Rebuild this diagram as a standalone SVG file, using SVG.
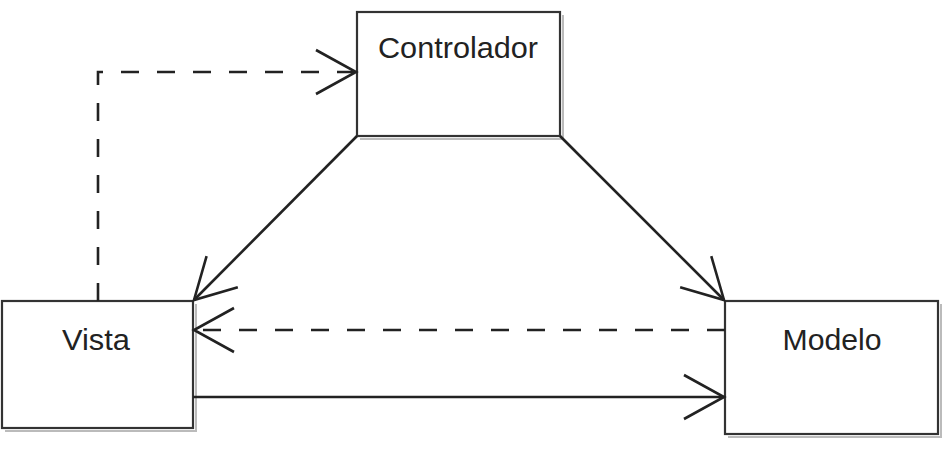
<svg xmlns="http://www.w3.org/2000/svg" width="951" height="472" viewBox="0 0 951 472">
<style>
.box{fill:#fff;stroke:#333;stroke-width:2.2}
.shadow{fill:none;stroke:#bbb;stroke-width:2}
.lbl{font-family:"Liberation Sans",Arial,sans-serif;font-size:29.5px;fill:#222;text-anchor:middle}
.edge{fill:none;stroke:#222;stroke-width:2.6}
.dash{stroke-dasharray:18 18}
</style>
<defs>
<marker id="open" markerUnits="userSpaceOnUse" markerWidth="60" markerHeight="60" viewBox="-45 -30 50 60" refX="0" refY="0" orient="auto">
<path d="M-40,-22 L0,0 L-40,22" fill="none" stroke="#222" stroke-width="2.6" stroke-dasharray="none"/>
</marker>
</defs>
<g id="controlador">
<path class="shadow" d="M563,15 V139 H360"/>
<rect class="box" x="357" y="12" width="203" height="124"/>
<text class="lbl" x="458" y="58" textLength="160" lengthAdjust="spacingAndGlyphs">Controlador</text>
</g>
<g id="vista">
<path class="shadow" d="M196,304 V431 H5"/>
<rect class="box" x="2" y="301" width="191" height="127"/>
<text class="lbl" x="96" y="350" textLength="68" lengthAdjust="spacingAndGlyphs">Vista</text>
</g>
<g id="modelo">
<path class="shadow" d="M941,304 V437 H728"/>
<rect class="box" x="725" y="301" width="213" height="133"/>
<text class="lbl" x="832" y="350" textLength="99" lengthAdjust="spacingAndGlyphs">Modelo</text>
</g>
<g id="connectors">
<path class="edge dash" d="M98,301 V72 H356" marker-end="url(#open)"/>
<path class="edge" d="M357,136 L194,300" marker-end="url(#open)"/>
<path class="edge" d="M560,136 L724,300" marker-end="url(#open)"/>
<path class="edge dash" d="M725,330 H194" marker-end="url(#open)"/>
<path class="edge" d="M193,397 H724" marker-end="url(#open)"/>
</g>
</svg>
